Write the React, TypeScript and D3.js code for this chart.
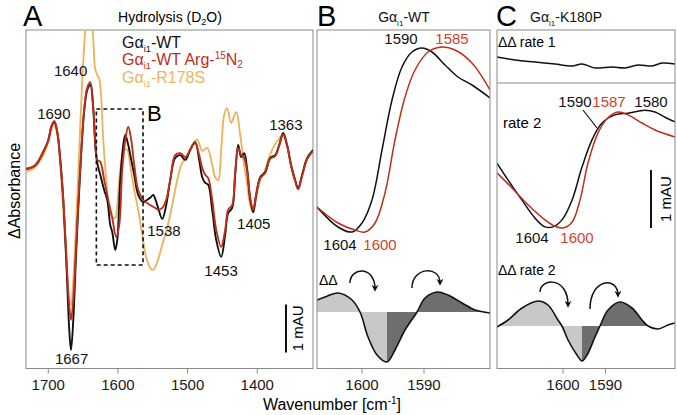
import React from 'react';
import * as d3 from 'd3';

type P = [number, number];

// ---------- Panel A: hydrolysis spectra (wavenumber, mAU) ----------
const A_TICKS = [1700, 1600, 1500, 1400];
const A_WT: P[] = [[1731.6,0.02],[1718.7,0.10],[1707.2,0.38],[1700,0.62],[1695.7,0.90],[1691.4,1.0],[1687.1,0.79],[1682.8,0.21],[1678.5,-0.62],[1674.2,-1.88],[1669.9,-3.33],[1667.4,-3.75],[1664.1,-3.12],[1659.8,-1.67],[1654.1,0],[1648.3,1.25],[1644.0,1.67],[1639.7,1.77],[1635.4,1.25],[1632.6,0.52],[1629.7,0.15],[1625.4,-0.10],[1619.7,-0.42],[1615.4,-0.62],[1611.0,-1.15],[1608.2,-1.29],[1603.9,-1.67],[1601.0,-1.46],[1596.7,-0.21],[1592.4,0.52],[1589.5,0.73],[1585.2,0.52],[1580.9,0.21],[1576.6,-0.10],[1570.9,-0.52],[1563.7,-0.67],[1558.0,-0.62],[1553.7,-0.58],[1549.4,-0.52],[1543.6,-0.73],[1536.4,-1.02],[1530.7,-0.73],[1525.0,-0.21],[1517.8,0.25],[1510.6,0.31],[1503.4,0.21],[1496.3,0.42],[1489.1,0.58],[1483.4,0.21],[1479.0,-0.15],[1474.7,-0.27],[1470.4,-0.31],[1464.7,-0.83],[1458.9,-1.46],[1451.8,-1.81],[1446.1,-1.35],[1441.8,-0.90],[1436.0,-0.79],[1431.7,-0.10],[1427.4,0.52],[1423.1,0.27],[1418.8,0.35],[1414.4,0],[1410.1,-0.62],[1405.9,-0.88],[1401.6,-0.52],[1395.8,-0.15],[1388.6,-0.04],[1381.5,0.25],[1374.3,0.31],[1368.6,0.52],[1362.8,0.77],[1357.1,0.52],[1351.4,0.10],[1345.6,-0.21],[1341.3,-0.38],[1335.6,-0.10],[1328.4,0.25],[1319.8,0.42]];
const A_ARG: P[] = [[1731.6,0.02],[1718.7,0.10],[1707.2,0.38],[1700,0.62],[1695.7,0.90],[1691.4,1.02],[1687.1,0.80],[1682.8,0.21],[1678.5,-0.60],[1674.2,-1.75],[1669.9,-2.85],[1667.4,-3.12],[1664.1,-2.7],[1659.8,-1.5],[1654.1,0.05],[1648.3,1.3],[1644.0,1.72],[1639.7,1.83],[1635.4,1.3],[1632.6,0.6],[1629.7,0.21],[1625.4,0.17],[1619.7,-0.21],[1614.0,-0.62],[1608.2,-1.0],[1602.5,-1.40],[1598.2,-1.15],[1593.9,0],[1589.5,0.62],[1585.2,0.90],[1580.9,0.62],[1576.6,0.1],[1570.9,-0.42],[1563.7,-0.62],[1553.7,-0.73],[1546.5,-0.79],[1542.2,-0.83],[1536.4,-0.79],[1530.7,-0.62],[1525.0,-0.21],[1517.8,0.31],[1510.6,0.35],[1503.4,0.27],[1496.3,0.42],[1489.1,0.56],[1483.4,0.31],[1479.0,0.04],[1474.7,-0.1],[1470.4,-0.17],[1464.7,-0.62],[1458.9,-1.25],[1451.8,-1.60],[1446.1,-1.25],[1441.8,-0.83],[1436.0,-0.73],[1431.7,-0.04],[1427.4,0.46],[1423.1,0.31],[1418.8,0.25],[1414.4,-0.04],[1410.1,-0.58],[1405.9,-0.83],[1401.6,-0.50],[1395.8,-0.17],[1388.6,-0.06],[1381.5,0.23],[1374.3,0.29],[1368.6,0.50],[1362.8,0.74],[1357.1,0.50],[1351.4,0.08],[1345.6,-0.23],[1341.3,-0.40],[1335.6,-0.12],[1328.4,0.23],[1319.8,0.40]];
const A_R178S: P[] = [[1731.6,-0.04],[1718.7,0.06],[1707.2,0.31],[1700,0.58],[1695.7,0.83],[1691.4,0.94],[1687.1,0.73],[1682.8,0.1],[1678.5,-0.83],[1674.2,-1.88],[1669.9,-2.71],[1667.4,-2.81],[1664.1,-2.29],[1659.8,-1.04],[1655.5,0.42],[1651.2,1.88],[1646.9,2.92],[1644.0,3.35],[1641.2,3.55],[1638.3,3.3],[1635.4,2.7],[1632.6,2.1],[1629.7,1.98],[1626.8,1.9],[1624.0,1.5],[1621.1,0.63],[1616.8,-0.21],[1612.5,-0.83],[1608.2,-0.98],[1603.9,-1.0],[1601.0,-0.73],[1596.7,0],[1591.0,0.42],[1586.7,0.42],[1582.4,0.1],[1576.6,-0.42],[1570.9,-0.83],[1565.1,-1.35],[1559.4,-1.83],[1553.7,-2.04],[1549.4,-2.08],[1543.6,-1.92],[1536.4,-1.56],[1529.3,-1.21],[1522.1,-0.73],[1514.9,-0.21],[1507.8,0.15],[1500.6,0.27],[1493.4,0.52],[1486.2,0.63],[1479.0,0.40],[1471.9,0.46],[1464.7,0.10],[1460.4,-0.15],[1456.1,-0.21],[1451.8,0.42],[1447.5,1.15],[1443.3,1.29],[1437.4,0.98],[1430.3,1.21],[1424.5,0.73],[1418.8,0.1],[1414.4,-0.31],[1410.1,-0.73],[1405.9,-0.88],[1401.6,-0.58],[1395.8,-0.21],[1390.1,-0.06],[1384.3,0.21],[1377.2,0.46],[1370.0,0.63],[1362.8,0.73],[1357.1,0.48],[1351.4,0.08],[1345.6,-0.23],[1341.3,-0.40],[1335.6,-0.12],[1328.4,0.23],[1319.8,0.40]];
const A_PEAKS = [
  { label: '1690', wn: 1692, v: 1.0, dy: -3 },
  { label: '1640', wn: 1668, v: 1.77, dy: -9 },
  { label: '1667', wn: 1666.5, v: -3.75, dy: 14 },
  { label: '1538', wn: 1534, v: -1.02, dy: 17 },
  { label: '1453', wn: 1452, v: -1.81, dy: 19 },
  { label: '1405', wn: 1405, v: -0.88, dy: 17 },
  { label: '1363', wn: 1359, v: 0.77, dy: -3 },
];
const A_BOX = { wn0: 1631, wn1: 1564, v0: 1.27, v1: -1.98 };

// ---------- Panel B: Gαi1-WT zoom ----------
const BC_TICKS = [1600, 1590];
const B_WT: P[] = [[1607.26,-1.675],[1603.87,-2.175],[1601.61,-2.3],[1600,-2.075],[1598.39,-1.5],[1596.77,-0.25],[1595.16,1.0],[1593.55,1.825],[1591.94,2.2],[1590.32,2.3],[1588.71,2.2],[1586.61,1.875],[1584.52,1.575],[1582.26,1.375],[1579.35,1.05]];
const B_ARG: P[] = [[1607.26,-1.675],[1603.87,-2.075],[1601.13,-2.25],[1599.52,-2.3],[1597.90,-2.075],[1596.29,-1.325],[1594.68,0],[1593.06,1.075],[1591.45,1.75],[1589.35,2.2],[1587.10,2.325],[1585.0,2.25],[1582.26,1.925],[1579.35,1.25]];
const B_DD: P[] = [[1607.26,0.6],[1605.97,0.75],[1603.87,0.95],[1601.61,0.6],[1600.32,0],[1599.03,-1.25],[1597.58,-2.15],[1595.97,-2.5],[1594.68,-1.9],[1593.06,-0.9],[1591.13,0],[1589.84,0.7],[1587.90,1.0],[1586.13,0.85],[1583.87,0.45],[1581.77,0.1],[1579.35,-0.05]];
const B_SPLIT = 1595.97;

// ---------- Panel C: Gαi1-K180P ----------
const C_RATE1: P[] = [[1615.53,0.8],[1611.29,0.5],[1606.59,0.3],[1601.88,0.1],[1597.88,-0.1],[1595.53,0.1],[1592.47,-0.3],[1588.47,-0.2],[1585.41,-0.3],[1582.35,0],[1579.06,-0.1],[1576.71,0.2],[1573.65,0.1]];
const C_WT: P[] = [[1615.53,0.12],[1612.94,-0.17],[1609.65,-0.52],[1606.59,-0.83],[1604.24,-0.98],[1602.35,-0.98],[1600.24,-0.86],[1597.88,-0.52],[1595.53,0.05],[1593.18,0.52],[1590.82,0.81],[1587.76,0.95],[1584.71,0.98],[1580.71,1.03],[1578.35,1.0],[1576.0,0.91],[1573.65,0.83]];
const C_ARG: P[] = [[1615.53,-0.05],[1612.0,-0.31],[1608.24,-0.60],[1604.24,-0.86],[1601.88,-0.97],[1600.0,-1.0],[1597.88,-0.90],[1596.0,-0.52],[1594.12,0.12],[1591.76,0.64],[1589.41,0.90],[1587.06,1.0],[1584.71,0.95],[1581.41,0.81],[1578.35,0.69],[1573.65,0.57]];
const C_DD: P[] = [[1615.53,-0.05],[1612.94,0.3],[1609.65,0.9],[1605.88,1.25],[1603.53,1.05],[1601.18,0.3],[1600.24,0],[1598.82,-0.7],[1596.71,-1.45],[1595.53,-1.75],[1594.35,-1.45],[1592.47,-0.55],[1591.29,0],[1589.41,0.8],[1586.59,1.2],[1583.76,0.9],[1581.41,0.3],[1580.0,0],[1577.65,-0.15],[1575.29,0.05],[1573.65,0.15]];
const C_SPLIT = 1595.53;
const C_FILL_END = 1580.0;

const BLACK = '#111111';
const RED = '#bd2f1e';
const RED_TXT = '#d2432b';
const YEL = '#ebb560';
const FRAME = '#8a8a8a';
const FONT = 'Liberation Sans, Arial, Helvetica, sans-serif';

const TOP = 30;
const BOT = 368.5;
const A = { l: 26, r: 313 };
const B = { l: 317, r: 490 };
const C = { l: 497, r: 675, sep: 83 };

const xA = d3.scaleLinear().domain([1732, 1320]).range([A.l, A.r]);
const yA = d3.scaleLinear().domain([0, 1]).range([170, 122]);
const xB = d3.scaleLinear().domain([1600, 1590]).range([362, 424]);
const yB = d3.scaleLinear().domain([0, 1]).range([140, 100]);
const yBdd = d3.scaleLinear().domain([0, 1]).range([312, 292]);
const xC = d3.scaleLinear().domain([1600, 1590]).range([563, 605.5]);
const yC1 = d3.scaleLinear().domain([0, 1]).range([65, 55]);
const yC = d3.scaleLinear().domain([0, 1]).range([170, 112]);
const yCdd = d3.scaleLinear().domain([0, 1]).range([326, 306]);

const mkLine = (x: d3.ScaleLinear<number, number>, y: d3.ScaleLinear<number, number>) =>
  d3.line<P>().x(d => x(d[0])).y(d => y(d[1])).curve(d3.curveCatmullRom.alpha(0.5));
const mkArea = (x: d3.ScaleLinear<number, number>, y: d3.ScaleLinear<number, number>) =>
  d3.area<P>().x(d => x(d[0])).y0(y(0)).y1(d => y(d[1])).curve(d3.curveCatmullRom.alpha(0.5));

function Gai({ x, y, suffix, fill, size = 15, anchor = 'start', children }: any) {
  return (
    <text x={x} y={y} fill={fill} fontSize={size} textAnchor={anchor} fontFamily={FONT}>
      Gα<tspan fontSize={size * 0.58} dy={size * 0.25}>i1</tspan>
      <tspan dy={-size * 0.25}>{suffix}</tspan>
      {children}
    </text>
  );
}

function Arrow({ x, y, s, e, top }: any) {
  const sx = x(s[0]), sy = y(s[1]), ex = x(e[0]), ey = y(e[1]), ty = y(top);
  const d = `M${sx},${sy} C${sx},${ty} ${ex},${ty - 2} ${ex},${ey}`;
  return <path d={d} fill="none" stroke={BLACK} strokeWidth={1.5} markerEnd="url(#ah)" />;
}

function Ticks({ x, ticks }: any) {
  return (
    <g>
      {ticks.map((t: number) => (
        <g key={t}>
          <line x1={x(t)} x2={x(t)} y1={BOT} y2={BOT + 5} stroke={FRAME} strokeWidth={1} />
          <text x={x(t)} y={390} textAnchor="middle" fontSize={15} fontFamily={FONT} fill="#1a1a1a">{t}</text>
        </g>
      ))}
    </g>
  );
}

export default function App() {
  const lA = mkLine(xA, yA);
  const lB = mkLine(xB, yB);
  const lBdd = mkLine(xB, yBdd);
  const aBdd = mkArea(xB, yBdd);
  const lC1 = mkLine(xC, yC1);
  const lC = mkLine(xC, yC);
  const lCdd = mkLine(xC, yCdd);
  const aCdd = mkArea(xC, yCdd);

  return (
    <svg width={677} height={415} style={{ position: 'absolute', left: 0, top: 0, background: '#fff' }} fontFamily={FONT}>
      <defs>
        <clipPath id="clipA"><rect x={A.l} y={TOP} width={A.r - A.l} height={BOT - TOP} /></clipPath>
        <clipPath id="clipB"><rect x={B.l} y={TOP} width={B.r - B.l} height={BOT - TOP} /></clipPath>
        <clipPath id="clipC"><rect x={C.l} y={TOP} width={C.r - C.l} height={BOT - TOP} /></clipPath>
        <clipPath id="bLight"><rect x={B.l} y={TOP} width={xB(B_SPLIT) - B.l} height={BOT - TOP} /></clipPath>
        <clipPath id="bDark"><rect x={xB(B_SPLIT)} y={TOP} width={B.r - xB(B_SPLIT)} height={BOT - TOP} /></clipPath>
        <clipPath id="cLight"><rect x={C.l} y={TOP} width={xC(C_SPLIT) - C.l} height={BOT - TOP} /></clipPath>
        <clipPath id="cDark"><rect x={xC(C_SPLIT)} y={TOP} width={xC(C_FILL_END) - xC(C_SPLIT)} height={BOT - TOP} /></clipPath>
        <marker id="ah" viewBox="0 0 10 10" refX={6} refY={5} markerWidth={7} markerHeight={7} orient="auto" markerUnits="userSpaceOnUse">
          <path d="M0,0 L10,5 L0,10 L3,5 z" fill={BLACK} />
        </marker>
      </defs>

      {/* Panel letters & titles */}
      <text x={23} y={26} fontSize={29} fontFamily={FONT}>A</text>
      <text x={317} y={26} fontSize={29} fontFamily={FONT}>B</text>
      <text x={496} y={26} fontSize={29} fontFamily={FONT}>C</text>
      <text x={170} y={22} fontSize={14} textAnchor="middle" fontFamily={FONT}>
        Hydrolysis (D<tspan fontSize={9} dy={3}>2</tspan><tspan dy={-3}>O)</tspan>
      </text>
      <Gai x={404} y={22} size={14} anchor="middle" suffix="-WT" fill={BLACK} />
      <Gai x={566} y={22} size={14} anchor="middle" suffix="-K180P" fill={BLACK} />

      {/* ---------- Panel A ---------- */}
      <rect x={A.l} y={TOP} width={A.r - A.l} height={BOT - TOP} fill="none" stroke={FRAME} strokeWidth={1} />
      <g clipPath="url(#clipA)">
        <path d={lA(A_R178S) || ''} fill="none" stroke={YEL} strokeWidth={1.9} />
        <path d={lA(A_WT) || ''} fill="none" stroke={BLACK} strokeWidth={1.9} />
        <path d={lA(A_ARG) || ''} fill="none" stroke={RED} strokeWidth={1.9} />
      </g>
      <rect x={xA(A_BOX.wn0)} y={yA(A_BOX.v0)} width={xA(A_BOX.wn1) - xA(A_BOX.wn0)} height={yA(A_BOX.v1) - yA(A_BOX.v0)}
        fill="none" stroke={BLACK} strokeWidth={1.6} strokeDasharray="4,3" />
      <text x={xA(A_BOX.wn1) + 4} y={yA(A_BOX.v0) + 12} fontSize={22} fontFamily={FONT}>B</text>
      {A_PEAKS.map(p => (
        <text key={p.label} x={xA(p.wn)} y={yA(p.v) + p.dy} textAnchor="middle" fontSize={15} fontFamily={FONT} fill="#111">{p.label}</text>
      ))}
      <Gai x={122} y={48} size={16} suffix="-WT" fill={BLACK} />
      <Gai x={122} y={65} size={16} suffix="-WT Arg-" fill={RED}>
        <tspan fontSize={10} dy={-6}>15</tspan><tspan dy={6}>N</tspan><tspan fontSize={10} dy={3}>2</tspan>
      </Gai>
      <Gai x={122} y={83} size={16} suffix="-R178S" fill={YEL} />
      {/* scale bar A */}
      <line x1={286} x2={286} y1={yA(-2.8)} y2={yA(-3.8)} stroke={BLACK} strokeWidth={2} />
      <text transform={`translate(303,${(yA(-2.8) + yA(-3.8)) / 2}) rotate(-90)`} textAnchor="middle" fontSize={15} fontFamily={FONT}>1 mAU</text>
      <Ticks x={xA} ticks={A_TICKS} />
      <text transform="translate(20,191) rotate(-90)" textAnchor="middle" fontSize={16} fontFamily={FONT}>ΔAbsorbance</text>

      {/* ---------- Panel B ---------- */}
      <g clipPath="url(#clipB)">
        <path d={aBdd(B_DD) || ''} fill="#c8c8c8" clipPath="url(#bLight)" />
        <path d={aBdd(B_DD) || ''} fill="#6e6e6e" clipPath="url(#bDark)" />
        <path d={lBdd(B_DD) || ''} fill="none" stroke={BLACK} strokeWidth={1.6} />
        <path d={lB(B_WT) || ''} fill="none" stroke={BLACK} strokeWidth={1.5} />
        <path d={lB(B_ARG) || ''} fill="none" stroke={RED} strokeWidth={1.5} />
      </g>
      <rect x={B.l} y={TOP} width={B.r - B.l} height={BOT - TOP} fill="none" stroke={FRAME} strokeWidth={1} />
      <text x={401} y={44} textAnchor="middle" fontSize={15} fontFamily={FONT} fill={BLACK}>1590</text>
      <text x={452} y={44} textAnchor="middle" fontSize={15} fontFamily={FONT} fill={RED_TXT}>1585</text>
      <text x={340} y={250} textAnchor="middle" fontSize={15} fontFamily={FONT} fill={BLACK}>1604</text>
      <text x={380} y={250} textAnchor="middle" fontSize={15} fontFamily={FONT} fill={RED_TXT}>1600</text>
      <text x={319} y={285} fontSize={14} fontFamily={FONT}>ΔΔ</text>
      <Arrow x={xB} y={yBdd} s={[1601.94, 1.45]} e={[1597.9, 1.15]} top={2.25} />
      <Arrow x={xB} y={yBdd} s={[1591.94, 1.2]} e={[1587.42, 1.45]} top={2.25} />
      <Ticks x={xB} ticks={BC_TICKS} />

      {/* ---------- Panel C ---------- */}
      <g clipPath="url(#clipC)">
        <path d={aCdd(C_DD) || ''} fill="#c8c8c8" clipPath="url(#cLight)" />
        <path d={aCdd(C_DD) || ''} fill="#6e6e6e" clipPath="url(#cDark)" />
        <path d={lCdd(C_DD) || ''} fill="none" stroke={BLACK} strokeWidth={1.6} />
        <path d={lC1(C_RATE1) || ''} fill="none" stroke={BLACK} strokeWidth={1.5} />
        <path d={lC(C_WT) || ''} fill="none" stroke={BLACK} strokeWidth={1.5} />
        <path d={lC(C_ARG) || ''} fill="none" stroke={RED} strokeWidth={1.5} />
      </g>
      <rect x={C.l} y={TOP} width={C.r - C.l} height={BOT - TOP} fill="none" stroke={FRAME} strokeWidth={1} />
      <line x1={C.l} x2={C.r} y1={C.sep} y2={C.sep} stroke={FRAME} strokeWidth={1} />
      <text x={498} y={47} fontSize={14} fontFamily={FONT}>ΔΔ rate 1</text>
      <text x={503} y={128} fontSize={15} fontFamily={FONT}>rate 2</text>
      <line x1={583} y1={110} x2={597} y2={128} stroke={BLACK} strokeWidth={1.2} />
      <text x={575} y={107} textAnchor="middle" fontSize={15} fontFamily={FONT} fill={BLACK}>1590</text>
      <text x={609} y={107} textAnchor="middle" fontSize={15} fontFamily={FONT} fill={RED_TXT}>1587</text>
      <text x={651} y={107} textAnchor="middle" fontSize={15} fontFamily={FONT} fill={BLACK}>1580</text>
      <text x={532} y={243} textAnchor="middle" fontSize={15} fontFamily={FONT} fill={BLACK}>1604</text>
      <text x={577} y={243} textAnchor="middle" fontSize={15} fontFamily={FONT} fill={RED_TXT}>1600</text>
      <text x={498} y={275} fontSize={14} fontFamily={FONT}>ΔΔ rate 2</text>
      <line x1={651} x2={651} y1={yC(0)} y2={yC(-1)} stroke={BLACK} strokeWidth={2} />
      <text transform={`translate(671,${(yC(0) + yC(-1)) / 2}) rotate(-90)`} textAnchor="middle" fontSize={15} fontFamily={FONT}>1 mAU</text>
      <Arrow x={xC} y={yCdd} s={[1605.41, 1.7]} e={[1598.82, 1.05]} top={2.4} />
      <Arrow x={xC} y={yCdd} s={[1593.65, 0.85]} e={[1587.06, 1.55]} top={2.4} />
      <Ticks x={xC} ticks={BC_TICKS} />

      <text x={332} y={410} textAnchor="middle" fontSize={16} fontFamily={FONT}>
        Wavenumber [cm<tspan fontSize={10} dy={-6}>-1</tspan><tspan dy={6}>]</tspan>
      </text>
    </svg>
  );
}
